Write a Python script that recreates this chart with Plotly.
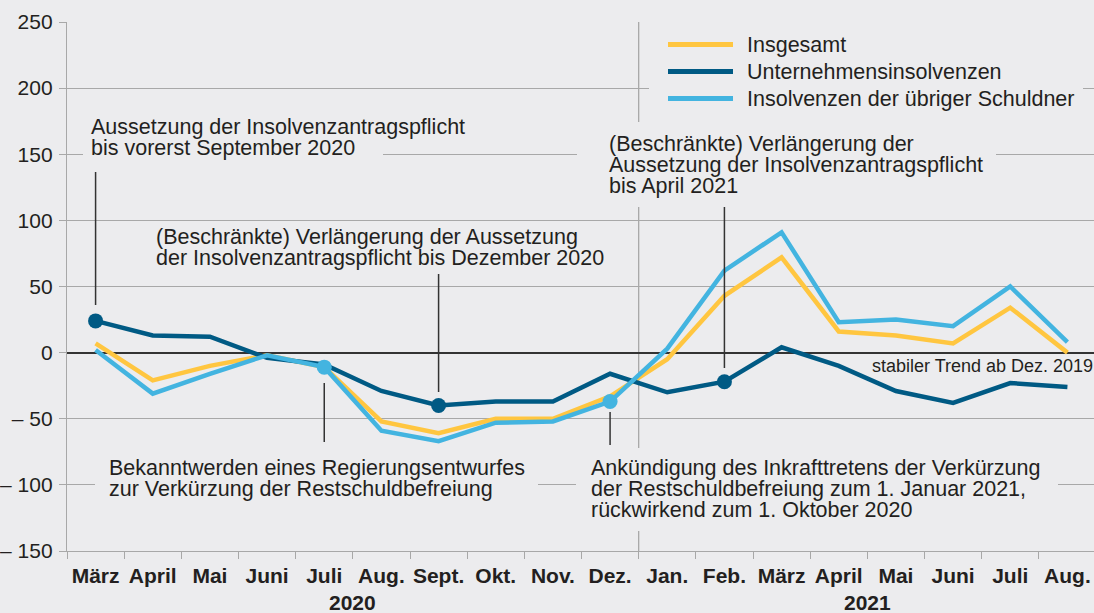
import plotly.graph_objects as go

# ---------------- data ----------------
months = ["März", "April", "Mai", "Juni", "Juli", "Aug.", "Sept.", "Okt.", "Nov.", "Dez.",
          "Jan.", "Feb.", "März", "April", "Mai", "Juni", "Juli", "Aug."]
years = ["2020", "2021"]
year_centers = [4.5, 13.5]
insgesamt = [7, -21, -10, -2, -11, -52, -61, -50, -50, -33, -5, 43, 72, 16, 13, 7, 34, 0]
unternehmen = [24, 13, 12, -4, -9, -29, -40, -37, -37, -16, -30, -22, 4, -10, -29, -38, -23, -26]
uebrige = [2, -31, -16, -2, -11, -59, -67, -53, -52, -37, 3, 62, 91, 23, 25, 20, 50, 8]
series_names = ["Insgesamt", "Unternehmensinsolvenzen", "Insolvenzen der übriger Schuldner"]
y_tickvals = [-150, -100, -50, 0, 50, 100, 150, 200, 250]
y_ticktext = ["– 150", "– 100", "– 50", "0", "50", "100", "150", "200", "250"]
dark_marked = [0, 6, 11]
blue_marked = [4, 9]

# ---------------- style ----------------
BG = "#ececee"
GRID = "#a8a8a8"
TXT = "#231f20"
YELLOW = "#ffc640"
DARK = "#005a84"
LIGHT = "#43b4e0"
COLORS = [YELLOW, DARK, LIGHT]
FONT = "Liberation Sans, Arial, sans-serif"
FS = 21.5

W, H = 1094, 613
ML, MR, MT, MB = 67, 0, 22, 62
XR = [-0.5, 17.465]
YR = [-150, 250]


def xd(px):
    return XR[0] + (px - ML) / (W - ML - MR) * (XR[1] - XR[0])


def yd(py):
    return YR[1] - (py - MT) / (H - MT - MB) * (YR[1] - YR[0])


x = list(range(len(months)))


def sizes(marked):
    return [15 if i in marked else 0 for i in x]


fig = go.Figure()
fig.add_trace(go.Scatter(x=x, y=insgesamt, name=series_names[0], mode="lines",
                         line=dict(color=YELLOW, width=4.5)))
fig.add_trace(go.Scatter(x=x, y=unternehmen, name=series_names[1], mode="lines+markers",
                         line=dict(color=DARK, width=4.5),
                         marker=dict(size=sizes(dark_marked), color=DARK, opacity=1,
                                     line=dict(width=0))))
fig.add_trace(go.Scatter(x=x, y=uebrige, name=series_names[2], mode="lines+markers",
                         line=dict(color=LIGHT, width=4.5),
                         marker=dict(size=sizes(blue_marked), color=LIGHT, opacity=1,
                                     line=dict(width=0))))

shapes = []
# year separator
shapes.append(dict(type="line", xref="x", yref="y", x0=9.5, x1=9.5, y0=YR[0], y1=YR[1],
                   line=dict(color=GRID, width=1.3), layer="below"))
# masks behind annotation texts and legend (hide grid lines there)
for (px0, px1, py0, py1) in [(83, 383, 149, 160), (577, 996, 122, 207),
                             (95, 538, 448, 510), (576, 1058, 448, 531),
                             (649, 1083, 30, 114)]:
    shapes.append(dict(type="rect", xref="x", yref="y", x0=xd(px0), x1=xd(px1),
                       y0=yd(py1), y1=yd(py0), fillcolor=BG, line=dict(width=0), layer="above"))
# pointer lines
for (xi, py0, py1) in [(0, 172, 305), (6, 274, 392), (4, 383, 442), (9, 412, 445), (11, 207, 368)]:
    shapes.append(dict(type="line", xref="x", yref="y", x0=xi, x1=xi, y0=yd(py0), y1=yd(py1),
                       line=dict(color="#333333", width=1.5), layer="above"))
# legend swatches
legend_rows = [44.5, 71.5, 98.5]
for c, py in zip(COLORS, legend_rows):
    shapes.append(dict(type="line", xref="x", yref="y", x0=xd(668), x1=xd(733), y0=yd(py), y1=yd(py),
                       line=dict(color=c, width=5), layer="above"))

notes = [
    ("Aussetzung der Insolvenzantragspflicht", 90, 127),
    ("bis vorerst September 2020", 90, 148),
    ("(Beschränkte) Verlängerung der Aussetzung", 155, 237),
    ("der Insolvenzantragspflicht bis Dezember 2020", 155, 258),
    ("Bekanntwerden eines Regierungsentwurfes", 108, 468),
    ("zur Verkürzung der Restschuldbefreiung", 108, 489),
    ("Ankündigung des Inkrafttretens der Verkürzung", 590, 468),
    ("der Restschuldbefreiung zum 1. Januar 2021,", 590, 489),
    ("rückwirkend zum 1. Oktober 2020", 590, 510),
    ("(Beschränkte) Verlängerung der", 608, 144),
    ("Aussetzung der Insolvenzantragspflicht", 608, 165),
    ("bis April 2021", 608, 186),
]
annotations = []
for t, px, py in notes:
    annotations.append(dict(text=t, x=xd(px), y=yd(py), xref="x", yref="y",
                            xanchor="left", yanchor="middle", showarrow=False,
                            borderpad=0, font=dict(size=FS, color=TXT, family=FONT)))
for name, py in zip(series_names, legend_rows):
    annotations.append(dict(text=name, x=xd(746), y=yd(py + 0.5), xref="x", yref="y",
                            xanchor="left", yanchor="middle", showarrow=False,
                            borderpad=0, font=dict(size=FS, color=TXT, family=FONT)))
annotations.append(dict(text="stabiler Trend ab Dez. 2019", x=1, y=yd(366), xref="paper", yref="y",
                        xanchor="right", yanchor="middle", showarrow=False, borderpad=0,
                        font=dict(size=18, color=TXT, family=FONT)))
for yr, xc in zip(years, year_centers):
    annotations.append(dict(text="<b>" + yr + "</b>", x=xc, y=0, xref="x", yref="paper",
                            xanchor="center", yanchor="top", yshift=-39, showarrow=False,
                            borderpad=0, font=dict(size=21, color=TXT, family=FONT)))

fig.update_layout(
    width=W, height=H,
    margin=dict(l=ML, r=MR, t=MT, b=MB),
    paper_bgcolor=BG, plot_bgcolor=BG,
    font=dict(family=FONT, color=TXT, size=21),
    showlegend=False,
    shapes=shapes,
    annotations=annotations,
    xaxis=dict(range=XR, tickvals=x, ticktext=["<b>" + m + "</b>" for m in months],
               ticks="", showgrid=False, zeroline=False, showline=True,
               linecolor=GRID, linewidth=1.3, ticklabelstandoff=6,
               tickfont=dict(size=21, color=TXT, family=FONT),
               minor=dict(ticks="outside", tick0=-0.5, dtick=1, ticklen=7,
                          tickcolor=GRID, tickwidth=1.3, showgrid=False)),
    yaxis=dict(range=YR, tickvals=y_tickvals, ticktext=y_ticktext,
               ticks="outside", ticklen=7, tickcolor=GRID, tickwidth=1.3,
               showgrid=True, gridcolor=GRID, gridwidth=1.3,
               zeroline=True, zerolinecolor="#333333", zerolinewidth=1.5,
               showline=True, linecolor=GRID, linewidth=1.3, ticklabelstandoff=2,
               tickfont=dict(size=21, color=TXT, family=FONT)),
)

fig.write_html(
    "out.html",
    config={"displayModeBar": False},
    post_script=("document.body.style.margin='0';document.body.style.padding='0';"
                 "document.body.style.background='" + BG + "';"
                 "document.documentElement.style.overflow='hidden';"),
)
